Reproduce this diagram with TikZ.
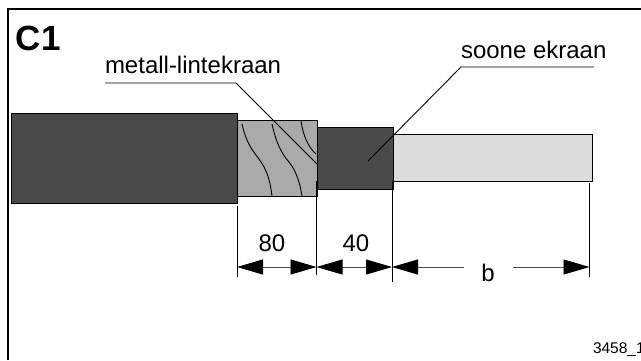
\documentclass[tikz,border=0pt]{standalone}
\usepackage{fontspec}
\setmainfont{Liberation Sans}
\usetikzlibrary{arrows.meta,positioning}
\definecolor{jacketgray}{HTML}{4A4A4A}
\definecolor{foilgray}{HTML}{AAAAAA}
\definecolor{insulgray}{HTML}{DCDCDC}

\begin{document}
\begin{tikzpicture}[x=1pt, y=-1pt, node distance=0pt,
        >={Triangle[length=26pt,width=15pt,black]},
        section/.style={draw=black, line width=1pt, rectangle, inner sep=0pt, outer sep=0pt},
        caption/.style={inner sep=0pt, outer sep=0pt, anchor=base west, font=\fontsize{24}{26}\selectfont},
        dimtext/.style={inner sep=0pt, outer sep=0pt, anchor=base, font=\fontsize{24}{26}\selectfont},
        leader/.style={draw=black, line width=0.9pt},
        ext/.style={draw=black, line width=0.9pt},
        dimline/.style={draw=black!70, line width=0.9pt},
        wrap/.style={draw=black, line width=0.9pt}]
        \useasboundingbox (0,0) rectangle (641,360);
        \draw[line width=1.2pt] (8,360) -- (8,9) -- (641,9);
        % cable
        \node[section, fill=jacketgray, minimum width=226pt, minimum height=90pt, anchor=west] (jacket) at (11,158) {};
        \node[section, fill=foilgray, minimum width=80pt, minimum height=76pt, right=of jacket] (foil) {};
        \node[section, fill=jacketgray, minimum width=76pt, minimum height=62pt, right=of foil] (core) {};
        \node[section, fill=insulgray, minimum width=199pt, minimum height=47pt, right=of core] (insul) {};
        % foil windings
        \draw[wrap] (242,124) .. controls (246,142) and (252,150) .. (259,159) .. controls (267,170) and (270,180) .. (272,196);
        \draw[wrap] (272,124) .. controls (276,142) and (281,153) .. (289,162) .. controls (297,172) and (300,184) .. (302,196);
        \draw[wrap] (301,121) .. controls (303,135) and (308,147) .. (316,154);
        % labels
        \node[inner sep=0pt, outer sep=0pt, anchor=base west, font=\bfseries\fontsize{35}{37}\selectfont] (title) at (16,50) {C1};
        \node[caption] (foillabel) at (105,73) {metall-lintekraan};
        \node[caption] (corelabel) at (461,58.5) {soone ekraan};
        \node[inner sep=0pt, outer sep=0pt, anchor=base west, font=\fontsize{15.5}{17}\selectfont] (refno) at (593,353) {3458\_1};
        % leaders
        \coordinate (fa) at (105,83);
        \coordinate (fb) at (236,83);
        \coordinate (fc) at (317,164);
        \coordinate (ca) at (594,67);
        \coordinate (cb) at (461,67);
        \coordinate (cc) at (368,161);
        \draw[leader] (fa) -- (fb) -- (fc);
        \draw[leader] (ca) -- (cb) -- (cc);
        % dimensions
        \coordinate (e1t) at (237,206);
        \coordinate (e1b) at (237,277);
        \coordinate (e2t) at (316.5,181);
        \coordinate (e2b) at (316.5,275);
        \coordinate (e3t) at (392,181);
        \coordinate (e3b) at (392,282);
        \coordinate (e4t) at (589.5,183);
        \coordinate (e4b) at (589.5,277);
        \path[ext] (e1t) edge (e1b) (e2t) edge (e2b) (e3t) edge (e3b) (e4t) edge (e4b);
        \coordinate (d1) at (237,267);
        \coordinate (d2) at (316.5,267);
        \coordinate (d3) at (392,267);
        \coordinate (d4) at (589.5,267);
        \coordinate (bl) at (464,267);
        \coordinate (br) at (513,267);
        \draw[dimline, <->] (d1) -- (d2);
        \draw[dimline, <->] (d2) -- (d3);
        \draw[dimline, <-] (d3) -- (bl);
        \draw[dimline, ->] (br) -- (d4);
        \node[dimtext] (len80) at (272,251) {80};
        \node[dimtext] (len40) at (356,251) {40};
        \node[dimtext] (lenb) at (488,281) {b};
\end{tikzpicture}
\end{document}
